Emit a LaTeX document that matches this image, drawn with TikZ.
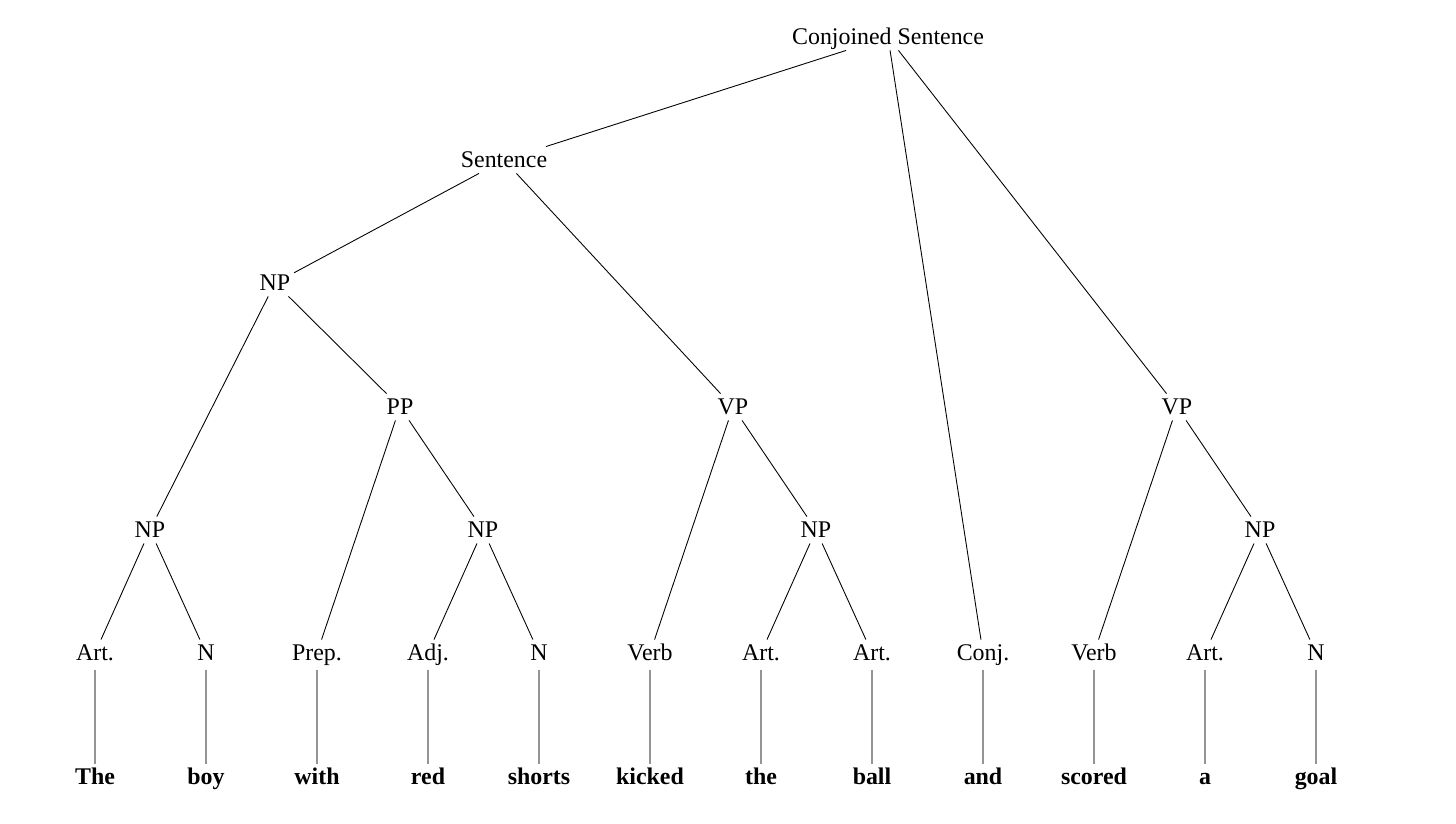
\documentclass[tikz,border=0pt]{standalone}
\usepackage{fontspec}
\setmainfont{Liberation Serif}
\usetikzlibrary{calc}
\tikzset{
	cat/.style={inner xsep=2pt, inner ysep=2.2pt, text height=0.95em, text depth=0.1em, font=\fontsize{13.6}{16}\selectfont},
	word/.style={cat, font=\fontsize{13.6}{16}\selectfont\bfseries},
	branch/.style={line width=0.5pt, color=black},
	stem/.style={line width=1pt, color=black!42, shorten <=2pt}
}

\begin{document}
\begin{tikzpicture}[x=0.02cm, y=-0.02cm]
		%%%%% START %%%%%
		
		\useasboundingbox (0, 0) rectangle (1456, 824);
		
		\node[cat] (cs) at (888, 37) {Conjoined Sentence};
		\node[cat] (s) at (504, 160) {Sentence};
		\node[cat] (np1) at (275, 283) {NP};
		\node[cat] (pp) at (400, 407) {PP};
		\node[cat] (vp1) at (733, 407) {VP};
		\node[cat] (vp2) at (1177, 407) {VP};
		\node[cat] (np2) at (150, 530) {NP};
		\node[cat] (np3) at (483, 530) {NP};
		\node[cat] (np4) at (816, 530) {NP};
		\node[cat] (np5) at (1260, 530) {NP};
		
		\node[cat] (art1) at (95, 653) {Art.};
		\node[cat] (n1) at (206, 653) {N};
		\node[cat] (prep) at (317, 653) {Prep.};
		\node[cat] (adj) at (428, 653) {Adj.};
		\node[cat] (n2) at (539, 653) {N};
		\node[cat] (verb1) at (650, 653) {Verb};
		\node[cat] (art2) at (761, 653) {Art.};
		\node[cat] (art3) at (872, 653) {Art.};
		\node[cat] (conj) at (983, 653) {Conj.};
		\node[cat] (verb2) at (1094, 653) {Verb};
		\node[cat] (art4) at (1205, 653) {Art.};
		\node[cat] (n3) at (1316, 653) {N};
		
		\node[word] (w1) at (95, 777) {The};
		\node[word] (w2) at (206, 777) {boy};
		\node[word] (w3) at (317, 777) {with};
		\node[word] (w4) at (428, 777) {red};
		\node[word] (w5) at (539, 777) {shorts};
		\node[word] (w6) at (650, 777) {kicked};
		\node[word] (w7) at (761, 777) {the};
		\node[word] (w8) at (872, 777) {ball};
		\node[word] (w9) at (983, 777) {and};
		\node[word] (w10) at (1094, 777) {scored};
		\node[word] (w11) at (1205, 777) {a};
		\node[word] (w12) at (1316, 777) {goal};
		
		\draw[branch] (cs) -- (s);
		\draw[branch] (cs) -- (conj);
		\draw[branch] (cs) -- (vp2);
		\draw[branch] (s) -- (np1);
		\draw[branch] (s) -- (vp1);
		\draw[branch] (np1) -- (np2);
		\draw[branch] (np1) -- (pp);
		\draw[branch] (pp) -- (prep);
		\draw[branch] (pp) -- (np3);
		\draw[branch] (vp1) -- (verb1);
		\draw[branch] (vp1) -- (np4);
		\draw[branch] (vp2) -- (verb2);
		\draw[branch] (vp2) -- (np5);
		
		\draw[branch] (np2) -- (art1);
		\draw[branch] (np2) -- (n1);
		\draw[branch] (np3) -- (adj);
		\draw[branch] (np3) -- (n2);
		\draw[branch] (np4) -- (art2);
		\draw[branch] (np4) -- (art3);
		\draw[branch] (np5) -- (art4);
		\draw[branch] (np5) -- (n3);
		
		\draw[stem] (art1) -- (w1);
		\draw[stem] (n1) -- (w2);
		\draw[stem] (prep) -- (w3);
		\draw[stem] (adj) -- (w4);
		\draw[stem] (n2) -- (w5);
		\draw[stem] (verb1) -- (w6);
		\draw[stem] (art2) -- (w7);
		\draw[stem] (art3) -- (w8);
		\draw[stem] (conj) -- (w9);
		\draw[stem] (verb2) -- (w10);
		\draw[stem] (art4) -- (w11);
		\draw[stem] (n3) -- (w12);
		
		%%%%% END %%%%%
	\end{tikzpicture}
\end{document}
